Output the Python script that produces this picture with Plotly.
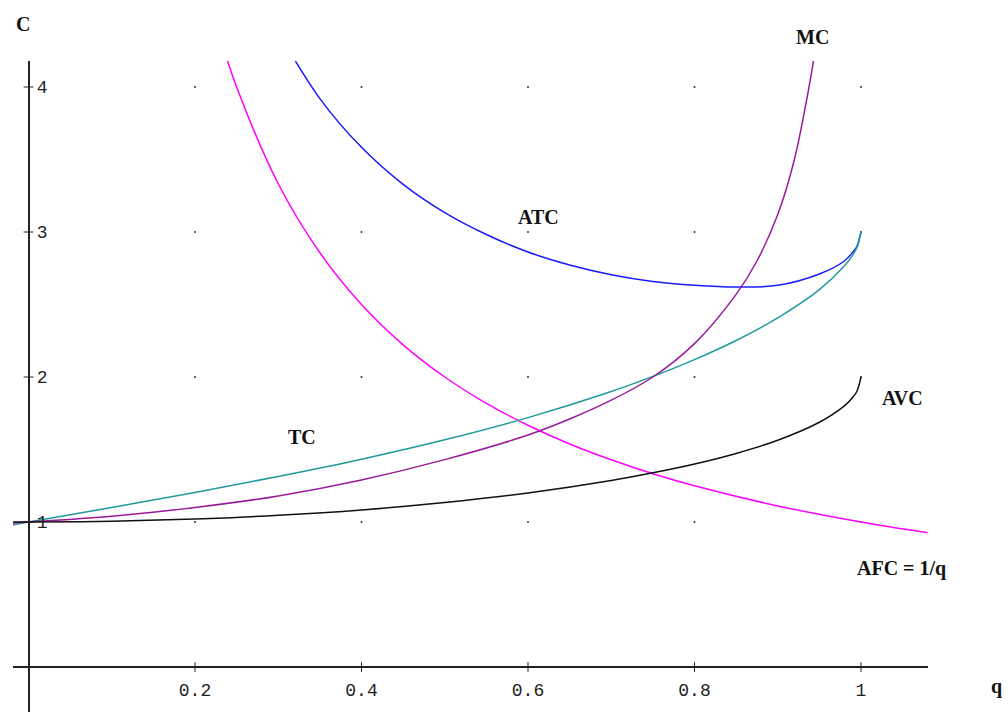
import plotly.graph_objects as go

# ---- data ----
q_avc = [-0.0186, 0.0, 0.1, 0.2, 0.3, 0.4, 0.5, 0.6, 0.7, 0.75, 0.8, 0.85, 0.9, 0.95, 0.98, 0.99, 0.995, 1.0]
avc   = [1.0, 1.0, 1.005, 1.020, 1.046, 1.083, 1.134, 1.2, 1.286, 1.339, 1.4, 1.473, 1.564, 1.688, 1.801, 1.859, 1.900, 2.0]
tc    = [0.981, 1.0, 1.1005, 1.204, 1.314, 1.433, 1.567, 1.72, 1.900, 2.004, 2.12, 2.252, 2.408, 2.603, 2.765, 2.840, 2.891, 3.0]

q_mc = [-0.0186, 0.0, 0.1, 0.2, 0.3, 0.4, 0.5, 0.6, 0.65, 0.7, 0.75, 0.8, 0.85, 0.875, 0.9, 0.92, 0.935, 0.945]
mc   = [0.993, 1.0, 1.04, 1.10, 1.18, 1.29, 1.43, 1.60, 1.71, 1.84, 2.0, 2.23, 2.57, 2.80, 3.12, 3.50, 3.92, 4.25]

q_atc = [0.3, 0.35, 0.4, 0.45, 0.5, 0.55, 0.6, 0.65, 0.7, 0.75, 0.8, 0.85, 0.9, 0.95, 0.98, 0.99, 0.995, 1.0]
atc   = [4.379, 3.920, 3.584, 3.329, 3.134, 2.983, 2.862, 2.772, 2.705, 2.658, 2.632, 2.620, 2.632, 2.71, 2.80, 2.86, 2.90, 3.0]

q_afc = [0.23, 0.25, 0.3, 0.35, 0.4, 0.45, 0.5, 0.55, 0.6, 0.65, 0.7, 0.75, 0.8, 0.9, 1.0, 1.08]
afc   = [4.348, 4.0, 3.333, 2.857, 2.5, 2.222, 2.0, 1.818, 1.667, 1.538, 1.429, 1.333, 1.25, 1.111, 1.0, 0.926]

x_ticks = [0.2, 0.4, 0.6, 0.8, 1.0]
x_tick_text = ["0.2", "0.4", "0.6", "0.8", "1"]
y_ticks = [1, 2, 3, 4]
y_tick_text = ["1", "2", "3", "4"]

Q_RANGE = [-0.01862, 1.08048]
C_RANGE = [-0.3103, 4.1793]

# ---- layout helpers (pixel -> paper) ----
L, R, T, B = 13, 80, 61, 0
W, H = 1008, 712
PW, PH = W - L - R, H - T - B
def px(x):
    return (x - L) / PW
def py(y):
    return (H - B - y) / PH

fig = go.Figure()

# grid dots at tick intersections
gx = [a for a in x_ticks for _ in y_ticks]
gy = [b for _ in x_ticks for b in y_ticks]
fig.add_trace(go.Scatter(x=gx, y=gy, mode="markers",
                         marker=dict(size=2, color="#333"), hoverinfo="skip"))

# axis tick marks (crossing ticks)
fig.add_trace(go.Scatter(x=x_ticks, y=[0] * len(x_ticks), mode="markers",
                         marker=dict(symbol="line-ns", size=7, line=dict(width=1, color="#222")),
                         hoverinfo="skip", cliponaxis=False))
fig.add_trace(go.Scatter(x=[0] * len(y_ticks), y=y_ticks, mode="markers",
                         marker=dict(symbol="line-ew", size=7, line=dict(width=1, color="#222")),
                         hoverinfo="skip", cliponaxis=False))

lw = 1.5
fig.add_trace(go.Scatter(x=q_afc, y=afc, mode="lines", line=dict(color="#ff00ff", width=lw, shape="spline")))
fig.add_trace(go.Scatter(x=q_atc, y=atc, mode="lines", line=dict(color="#1a1aff", width=lw, shape="spline")))
fig.add_trace(go.Scatter(x=q_avc, y=tc, mode="lines", line=dict(color="#1f9a9a", width=lw, shape="spline")))
fig.add_trace(go.Scatter(x=q_mc, y=mc, mode="lines", line=dict(color="#9a1a9a", width=lw, shape="spline")))
fig.add_trace(go.Scatter(x=q_avc, y=avc, mode="lines", line=dict(color="#111111", width=lw, shape="spline")))

tickfont = dict(family="Liberation Mono", size=18, color="#222")
fig.update_xaxes(range=Q_RANGE, domain=[0, 1], anchor="free", position=py(667),
                 showline=True, linecolor="#222", linewidth=1.5,
                 tickmode="array", tickvals=x_ticks, ticktext=x_tick_text,
                 ticks="", ticklabelstandoff=7, tickfont=tickfont,
                 showgrid=False, zeroline=False, fixedrange=True)
fig.update_yaxes(range=C_RANGE, domain=[0, 1], anchor="free", position=px(28.5), side="right",
                 showline=True, linecolor="#222", linewidth=1.5,
                 tickmode="array", tickvals=y_ticks, ticktext=y_tick_text,
                 ticks="", ticklabelstandoff=4, tickfont=tickfont,
                 showgrid=False, zeroline=False, fixedrange=True)

lab = dict(family="Liberation Serif", size=20, color="#111")
def add_label(text, x, y):
    fig.add_annotation(text="<b>" + text + "</b>", x=px(x), y=py(y), xref="paper", yref="paper",
                       showarrow=False, xanchor="center", yanchor="middle", font=lab)

add_label("C", 22.5, 24.5)
add_label("MC", 812, 37)
add_label("ATC", 538, 217)
add_label("TC", 302, 437)
add_label("AVC", 902, 398)
add_label("AFC = 1/q", 901, 568)
add_label("q", 996, 686)

fig.update_layout(width=W, height=H, margin=dict(l=L, r=R, t=T, b=B, autoexpand=False),
                  paper_bgcolor="white", plot_bgcolor="white", showlegend=False,
                  hovermode=False)

fig.write_html("out.html")
